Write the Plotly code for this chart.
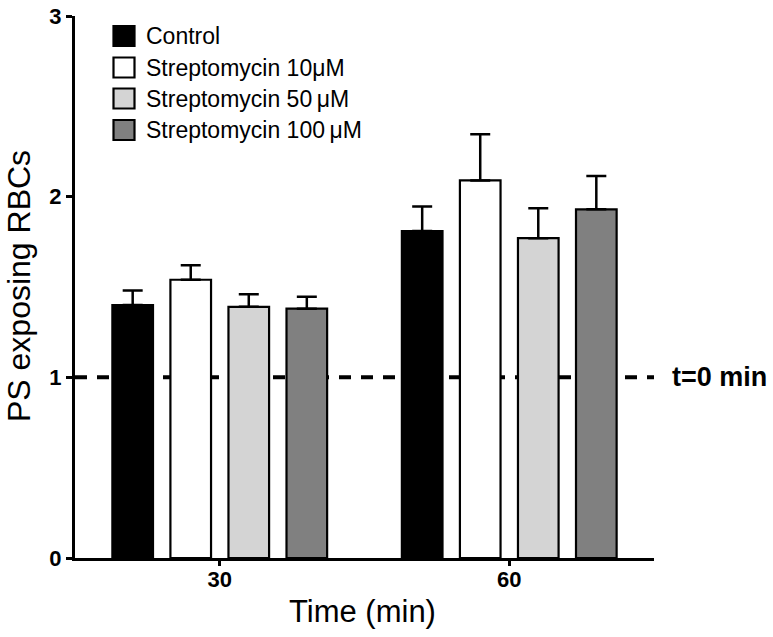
import plotly.graph_objects as go

# ---- data ----
times = ["30", "60"]
series_names = ["Control", "Streptomycin 10μM", "Streptomycin 50\u2009μM", "Streptomycin 100\u2009μM"]
control = [1.40, 1.81]
strep10 = [1.54, 2.09]
strep50 = [1.39, 1.77]
strep100 = [1.38, 1.93]
control_err = [0.08, 0.135]
strep10_err = [0.08, 0.256]
strep50_err = [0.07, 0.166]
strep100_err = [0.066, 0.184]
baseline_value = 1.0
baseline_label = "t=0 min"
y_ticks = [0, 1, 2, 3]

values = [control, strep10, strep50, strep100]
errors = [control_err, strep10_err, strep50_err, strep100_err]
colors = ["#000000", "#ffffff", "#d4d4d4", "#808080"]

FONT = "Liberation Sans, Arial, Helvetica, sans-serif"
W, H = 773, 637
L, R, T, B = 75, 119, 16, 79
PW, PH = W - L - R, H - T - B


def px2x(px):
    return (px - L) / PW


def py2y(py):
    return (H - B - py) / PH


fig = go.Figure()
for name, vals, errs, col in zip(series_names, values, errors, colors):
    fig.add_trace(go.Bar(
        x=times, y=vals, name=name,
        marker=dict(color=col, line=dict(color="black", width=2.2)),
        error_y=dict(type="data", array=errs, arrayminus=[0] * len(errs),
                     symmetric=False, color="black", thickness=2.5, width=10),
        showlegend=False,
    ))

# baseline dashed line (drawn below bars)
fig.add_shape(type="line", xref="paper", yref="y", x0=0, x1=1,
              y0=baseline_value, y1=baseline_value, layer="below",
              line=dict(color="black", width=4, dash="12px,10px"))
fig.add_annotation(xref="paper", yref="y", x=px2x(670), y=baseline_value,
                   text="<b>" + baseline_label + "</b>", showarrow=False,
                   xanchor="left", yanchor="middle",
                   font=dict(family=FONT, size=27, color="black"))

# manual legend
row_y = [36, 67.5, 98.5, 130]
for name, col, ry in zip(series_names, colors, row_y):
    fig.add_shape(type="rect", xref="paper", yref="paper",
                  x0=px2x(113.5), x1=px2x(134.5), y0=py2y(ry + 10), y1=py2y(ry - 10),
                  fillcolor=col, line=dict(color="black", width=2.2))
    fig.add_annotation(xref="paper", yref="paper", x=px2x(144), y=py2y(ry),
                       text=name, showarrow=False, xanchor="left", yanchor="middle",
                       font=dict(family=FONT, size=23, color="black"))

# axis titles
fig.add_annotation(xref="paper", yref="paper", x=px2x(19), y=py2y(286),
                   text="PS exposing RBCs", textangle=-90, showarrow=False,
                   xanchor="center", yanchor="middle",
                   font=dict(family=FONT, size=32, color="black"))
fig.add_annotation(xref="paper", yref="paper", x=px2x(362), y=py2y(611),
                   text="Time (min)", showarrow=False,
                   xanchor="center", yanchor="middle",
                   font=dict(family=FONT, size=31, color="black"))

fig.update_layout(
    width=W, height=H,
    margin=dict(l=L, r=R, t=T, b=B, autoexpand=False),
    paper_bgcolor="white", plot_bgcolor="white",
    barmode="group", bargap=0.198, bargroupgap=0.30,
    font=dict(family=FONT, color="black"),
)
fig.update_xaxes(
    type="category", range=[-0.5, 1.5], automargin=False,
    showline=True, linecolor="black", linewidth=3,
    ticks="outside", ticklen=5, tickwidth=2.5, tickcolor="black",
    tickfont=dict(family=FONT, size=22, color="black"),
    ticklabelstandoff=-5, ticklabeloverflow="allow",
    showgrid=False, zeroline=False,
    tickprefix="<b>", ticksuffix="</b>",
)
fig.update_yaxes(
    range=[0, 3], tickvals=y_ticks, ticktext=["<b>%d</b>" % v for v in y_ticks],
    automargin=False, ticklabeloverflow="allow",
    showline=True, linecolor="black", linewidth=3,
    ticks="outside", ticklen=6, tickwidth=2.5, tickcolor="black",
    tickfont=dict(family=FONT, size=22, color="black"),
    showgrid=False, zeroline=False,
)

fig.write_html("out.html", config={"displayModeBar": False},
               post_script="document.body.style.margin='0px';")
